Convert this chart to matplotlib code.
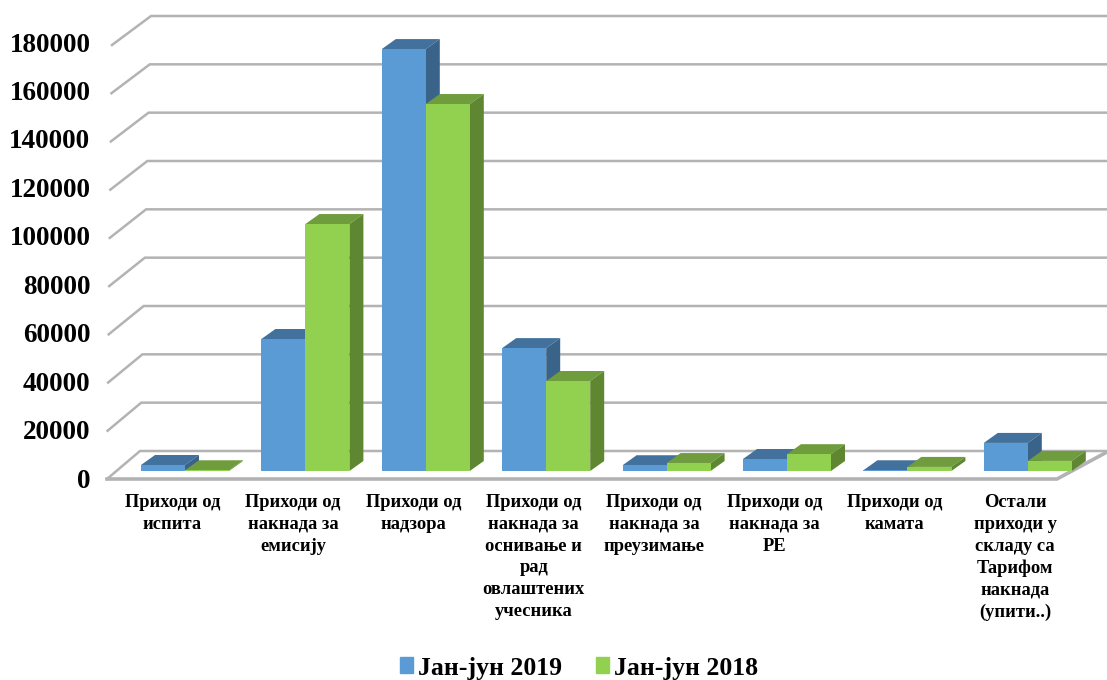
import numpy as np
import matplotlib
matplotlib.use("Agg")
import matplotlib.pyplot as plt
from matplotlib.patches import Polygon, Patch

plt.rcParams['font.family'] = ['Liberation Serif', 'DejaVu Serif']

################ DATA ################
categories = ["Приходи од\nиспита",
              "Приходи од\nнакнада за\nемисију",
              "Приходи од\nнадзора",
              "Приходи од\nнакнада за\nоснивање и\nрад\nовлаштених\nучесника",
              "Приходи од\nнакнада за\nпреузимање",
              "Приходи од\nнакнада за\nРЕ",
              "Приходи од\nкамата",
              "Остали\nприходи у\nскладу са\nТарифом\nнакнада\n(упити..)"]
jan_2019 = [2500, 55000, 175800, 51200, 2400, 5000, 300, 11700]
jan_2018 = [300, 102900, 152900, 37500, 3300, 7000, 1700, 4200]
y_ticks = [0, 20000, 40000, 60000, 80000, 100000, 120000, 140000, 160000, 180000]

################ LAYOUT (pixels of the 1107x680 picture) ################
W, H = 1107, 680
BASE_PX = 471          # bar foot
PX_PER_UNIT = 48.0 / 20000
GROUP_PX = 120.4
FIRST_PX = 185
BAR_PX = 44
DEPTH_X = 14
DEPTH_Y = 10

fig = plt.figure(figsize=(W / 100, H / 100), dpi=100)
ax = fig.add_axes([0, 0, 1, 1])
ax.set_xlim((0 - FIRST_PX) / GROUP_PX, (W - FIRST_PX) / GROUP_PX)
ax.set_ylim((BASE_PX - H) / PX_PER_UNIT, BASE_PX / PX_PER_UNIT)
ax.axis('off')

def to_data(px, py):
    return (px - FIRST_PX) / GROUP_PX, (BASE_PX - py) / PX_PER_UNIT

bar_w = BAR_PX / GROUP_PX
dx = DEPTH_X / GROUP_PX
dy = DEPTH_Y / PX_PER_UNIT

# walls and floor
GRID = '#b3b3b3'
for v in y_ticks:
    f = v / 180000.0
    front = to_data(107 + 5 * f, 479 - 434 * f)
    back = to_data(140 + 11 * f, 451 - 435 * f)
    end = to_data(W, 451 - 435 * f)
    ax.plot([front[0], back[0], end[0]], [front[1], back[1], end[1]],
            color=GRID, lw=1.8, solid_joinstyle='miter', zorder=1)
p1 = to_data(107, 479)
p2 = to_data(1057, 479)
p3 = to_data(W, 452)
ax.plot([p1[0], p2[0], p3[0]], [p1[1], p2[1], p3[1]], color=GRID, lw=2.6, zorder=1)

def draw_bars(xs, vals, front, top, side, z):
    ax.bar(xs, vals, width=bar_w, align='edge', color=front, linewidth=0, zorder=z + 1)
    for x, v in zip(xs, vals):
        r = x + bar_w
        ax.add_patch(Polygon([(x, v), (r, v), (r + dx, v + dy), (x + dx, v + dy)],
                             closed=True, fc=top, ec='none', zorder=z))
        ax.add_patch(Polygon([(r, 0), (r, v), (r + dx, v + dy), (r + dx, dy)],
                             closed=True, fc=side, ec='none', zorder=z))

xpos = np.arange(len(categories))
for i in xpos:
    draw_bars([i - bar_w], [jan_2019[i]], '#5b9bd5', '#41719c', '#3a6389', 2 + 4 * i)
    draw_bars([i], [jan_2018[i]], '#92d050', '#6f9c3c', '#5f8731', 3 + 4 * i)

# value labels
for v in y_ticks:
    px, py = to_data(90.5, 481 - 436 * v / 180000.0)
    ax.text(px, py, str(v), ha='right', va='center', fontsize=19.5,
            fontweight='bold', color='black')

# category labels
for i, lab in enumerate(categories):
    px, py = to_data(172.5 + GROUP_PX * i, 494)
    ax.text(px, py, lab, ha='center', va='top', fontsize=13.3, fontweight='bold',
            color='black', linespacing=1.37)

handles = [Patch(color='#5b9bd5', label='Јан-јун 2019'),
           Patch(color='#92d050', label='Јан-јун 2018')]
leg = ax.legend(handles=handles, ncol=2, frameon=False, loc='center',
                bbox_to_anchor=(579 / W, 1 - 668 / H),
                prop={'weight': 'bold', 'size': 18.5}, handlelength=0.52, handleheight=0.58,
                handletextpad=0.2, columnspacing=1.3)

fig.savefig('out.png', dpi=100)
